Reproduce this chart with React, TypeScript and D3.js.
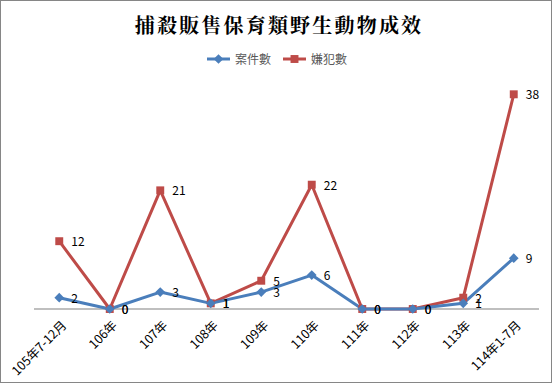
import React, { useEffect, useRef } from 'react';
import * as d3 from 'd3';

const categories = ['105年7-12月', '106年', '107年', '108年', '109年', '110年', '111年', '112年', '113年', '114年1-7月'];
const caseCounts = [2, 0, 3, 1, 3, 6, 0, 0, 1, 9];
const suspectCounts = [12, 0, 21, 1, 5, 22, 0, 0, 2, 38];
const seriesNames = ['案件數', '嫌犯數'];

const W = 554;
const H = 385;

export default function App() {
  const ref = useRef<SVGSVGElement>(null);

  useEffect(() => {
    const svg = d3.select(ref.current);
    svg.selectAll('*').remove();

    const blue = '#4A7EBB';
    const red = '#BE4B48';
    const font = '"Noto Sans CJK TC", "Noto Sans", sans-serif';

    svg.append('rect')
      .attr('x', 0.5).attr('y', 0.5)
      .attr('width', 551).attr('height', 382)
      .attr('fill', '#fff')
      .attr('stroke', '#868686');

    svg.append('text')
      .attr('x', 279).attr('y', 33)
      .attr('text-anchor', 'middle')
      .attr('font-family', '"Noto Serif CJK TC", "Noto Sans CJK TC", serif')
      .attr('font-weight', 'bold')
      .attr('font-size', 20)
      .attr('letter-spacing', 2.2)
      .text('捕殺販售保育類野生動物成效');

    const x = d3.scaleBand<string>()
      .domain(categories)
      .range([34, 539]);
    const y = d3.scaleLinear().domain([0, 40]).range([309, 83]);
    const cx = (d: string) => (x(d) as number) + x.bandwidth() / 2;

    // axis baseline
    svg.append('line')
      .attr('x1', 34).attr('x2', 539)
      .attr('y1', y(0)).attr('y2', y(0))
      .attr('stroke', '#BFBFBF').attr('stroke-width', 2);

    // x tick labels
    svg.append('g').selectAll('text')
      .data(categories)
      .enter().append('text')
      .attr('transform', d => `translate(${cx(d) + 5},${y(0) + 14}) rotate(-45)`)
      .attr('text-anchor', 'end')
      .attr('dy', '0.35em')
      .attr('font-family', font)
      .attr('font-size', 12.5)
      .attr('fill', '#000')
      .text(d => d);

    const line = d3.line<number>()
      .x((_, i) => cx(categories[i]))
      .y(d => y(d));

    svg.append('path')
      .datum(suspectCounts)
      .attr('fill', 'none')
      .attr('stroke', red)
      .attr('stroke-width', 3)
      .attr('stroke-linejoin', 'round')
      .attr('d', line);

    svg.append('path')
      .datum(caseCounts)
      .attr('fill', 'none')
      .attr('stroke', blue)
      .attr('stroke-width', 3)
      .attr('stroke-linejoin', 'round')
      .attr('d', line);

    const diamond = d3.symbol().type(d3.symbolDiamond2).size(60);
    const square = d3.symbol().type(d3.symbolSquare2).size(80);

    svg.append('g').selectAll('path')
      .data(suspectCounts)
      .enter().append('path')
      .attr('d', square)
      .attr('transform', (d, i) => `translate(${cx(categories[i])},${y(d)})`)
      .attr('fill', red);

    svg.append('g').selectAll('path')
      .data(caseCounts)
      .enter().append('path')
      .attr('d', diamond)
      .attr('transform', (d, i) => `translate(${cx(categories[i])},${y(d)})`)
      .attr('fill', blue);

    const labels = (vals: number[]) => svg.append('g').selectAll('text')
      .data(vals)
      .enter().append('text')
      .attr('x', (_, i) => cx(categories[i]) + 12)
      .attr('y', d => y(d) + 5)
      .attr('font-family', font)
      .attr('font-size', 12)
      .attr('fill', '#000')
      .text(d => d);
    labels(suspectCounts);
    labels(caseCounts);

    // legend
    const lg = svg.append('g').attr('transform', 'translate(0,59)');
    lg.append('line').attr('x1', 207).attr('x2', 230).attr('stroke', blue).attr('stroke-width', 3);
    lg.append('path').attr('d', diamond).attr('transform', 'translate(218.5,0)').attr('fill', blue);
    lg.append('text').attr('x', 235).attr('y', 4.5)
      .attr('font-family', font).attr('font-size', 12).attr('fill', '#595959')
      .text(seriesNames[0]);
    lg.append('line').attr('x1', 283).attr('x2', 306).attr('stroke', red).attr('stroke-width', 3);
    lg.append('path').attr('d', square).attr('transform', 'translate(294.5,0)').attr('fill', red);
    lg.append('text').attr('x', 311).attr('y', 4.5)
      .attr('font-family', font).attr('font-size', 12).attr('fill', '#595959')
      .text(seriesNames[1]);
  }, []);

  return (
    <svg
      ref={ref}
      width={W}
      height={H}
      style={{ position: 'absolute', left: 0, top: 0, display: 'block' }}
    />
  );
}
